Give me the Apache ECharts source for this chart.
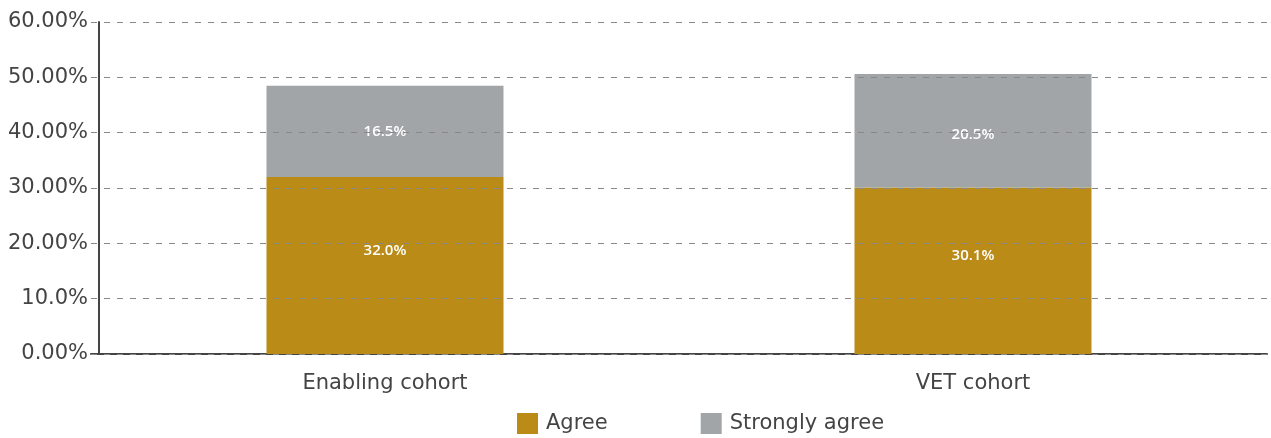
<!DOCTYPE html>
<html><head><meta charset="utf-8">
<script src="https://cdn.jsdelivr.net/npm/echarts@6/dist/echarts.min.js"></script>
<style>html,body{margin:0;padding:0;background:#fff}#c{width:1271px;height:438px}</style>
</head><body><div id="c"></div>
<script>
const categories = ['Enabling cohort', 'VET cohort'];
const agree = [32.0, 30.1];
const stronglyAgree = [16.5, 20.5];
const tickLabels = {0:'0.00%',10:'10.0%',20:'20.00%',30:'30.00%',40:'40.00%',50:'50.00%',60:'60.00%'};
const FONT = '"DejaVu Sans", sans-serif';
const agreeLabelShift = [[0,-15],[0,-15]];
const strongLabelShift = [[0,0],[0,4]];
const chart = echarts.init(document.getElementById('c'), null, {renderer:'canvas'});
const lbl = {show:true, position:'inside', color:'#fff', fontSize:15, fontWeight:600, fontFamily:'"Open Sans", sans-serif', formatter: p => p.value.toFixed(1) + '%'};
chart.setOption({
  animation:false,
  grid:{left:91, right:4, top:22, bottom:84},
  legend:{top:413, left:517, padding:0, itemWidth:21, itemHeight:21, itemGap:93, icon:'rect',
    textStyle:{fontSize:21, color:'#444', fontFamily:FONT, padding:[0,0,0,3]},
    data:['Agree','Strongly agree']},
  xAxis:{type:'category', data:categories,
    axisLine:{lineStyle:{color:'#444', width:2}}, axisTick:{show:false},
    axisLabel:{fontSize:21, color:'#444', fontFamily:FONT, margin:19}},
  yAxis:{type:'value', min:0, max:60, interval:10, offset:-8, z:5,
    axisLine:{show:true, lineStyle:{color:'#444', width:2}}, axisTick:{show:false},
    axisLabel:{fontSize:21, color:'#444', fontFamily:FONT, margin:11, formatter: v => tickLabels[v]},
    splitLine:{lineStyle:{type:[6,7], color:'#888', width:1}}},
  series:[
    {name:'Agree', type:'bar', stack:'s', barWidth:237, itemStyle:{color:'#BA8C17'}, label:lbl,
      data: agree.map((v,i)=>({value:v, label:{offset:agreeLabelShift[i]}}))},
    {name:'Strongly agree', type:'bar', stack:'s', barWidth:237, itemStyle:{color:'#A2A5A8'}, label:lbl,
      data: stronglyAgree.map((v,i)=>({value:v, label:{offset:strongLabelShift[i]}}))}
  ]
});
</script></body></html>
